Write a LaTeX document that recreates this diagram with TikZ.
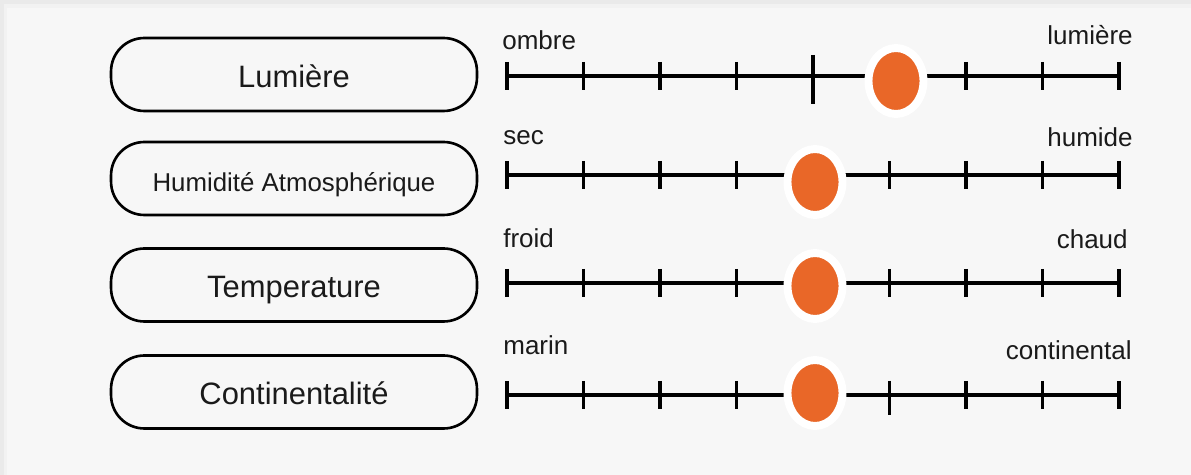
\documentclass[tikz,border=0pt]{standalone}
\usepackage{fontspec}
\setmainfont{Liberation Sans}
\usetikzlibrary{shapes.geometric,calc}
\definecolor{bgout}{HTML}{EAEAEA}
\definecolor{bgin}{HTML}{F7F7F7}
\definecolor{dotorange}{RGB}{233,103,40}
\definecolor{txt}{HTML}{1A1A1A}
\tikzset{
  pill/.style={draw=black, line width=1.5pt, rounded corners=19pt, fill=bgin,
    minimum width=7.32cm, minimum height=1.46cm, inner sep=0pt,
    text height=14.7pt, text depth=0pt, text=txt, font=\fontsize{17.6pt}{20pt}\selectfont},
  pillsmall/.style={pill, font=\fontsize{14.7pt}{17pt}\selectfont},
  axis/.style={line width=2.1pt, black},
  tick/.style={line width=2.1pt, black},
  endlab/.style={inner sep=0pt, text=txt, font=\fontsize{14.8pt}{17pt}\selectfont},
  dot/.style={ellipse, fill=dotorange, draw=white, line width=4.5pt,
    minimum width=1.1cm, minimum height=1.32cm, inner sep=0pt}
}
\begin{document}
\begin{tikzpicture}[x=0.02cm, y=-0.02cm]
\useasboundingbox (0,0) rectangle (1191,475);
\fill[bgout] (0,0) rectangle (1191,475);
\fill[black!5] (4,4) rectangle (1191,475);
\fill[bgin] (7,8) rectangle (1191,475);

% pills
\node[pill] (p1) at (294,74.5) {Lumière};
\node[pillsmall] (p2) at (294,178.5) {Humidité Atmosphérique};
\node[pill] (p3) at (294,285) {Temperature};
\node[pill] (p4) at (294,392) {Continentalité};

% scales
\foreach \r/\yy in {1/76, 2/175, 3/283, 4/395}{
  \coordinate (a\r) at (507,\yy);
  \coordinate (b\r) at (1119,\yy);
  \draw[axis] (a\r) -- (b\r);
  \foreach \k in {0,...,8}{
    \draw[tick] ($(a\r)+(\k*76.5,-14)$) -- ($(a\r)+(\k*76.5,14)$);
  }
}
% longer ticks
\draw[tick] ($(a1)+(306,-21)$) -- ($(a1)+(306,28)$);
\draw[tick] ($(a4)+(382.5,-14)$) -- ($(a4)+(382.5,20)$);

% end labels
\node[endlab, anchor=base west] (l1) at (502,50) {ombre};
\node[endlab, anchor=base east] (r1) at (1133,45) {lumière};
\node[endlab, anchor=base west] (l2) at (503,145) {sec};
\node[endlab, anchor=base east] (r2) at (1133,147) {humide};
\node[endlab, anchor=base west] (l3) at (503,248) {froid};
\node[endlab, anchor=base east] (r3) at (1128,249) {chaud};
\node[endlab, anchor=base west] (l4) at (503,355) {marin};
\node[endlab, anchor=base east] (r4) at (1132,360) {continental};

% markers
\node[dot] (d1) at (896,81) {};
\node[dot] (d2) at (815,182) {};
\node[dot] (d3) at (815,286) {};
\node[dot] (d4) at (815,393) {};
\end{tikzpicture}
\end{document}
